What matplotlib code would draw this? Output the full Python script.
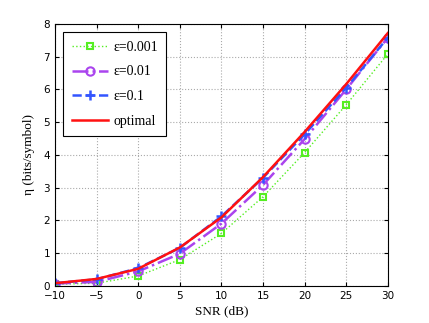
import matplotlib
matplotlib.use("Agg")
import matplotlib.pyplot as plt

snr = [-10, -5, 0, 5, 10, 15, 20, 25, 30]
eta_001 = [0.05, 0.08, 0.30, 0.80, 1.60, 2.72, 4.07, 5.53, 7.08]
eta_01 = [0.07, 0.12, 0.44, 0.98, 1.90, 3.08, 4.48, 6.00, 7.58]
eta_1 = [0.08, 0.20, 0.54, 1.16, 2.12, 3.30, 4.63, 6.05, 7.58]
eta_opt = [0.08, 0.21, 0.52, 1.17, 2.09, 3.32, 4.70, 6.16, 7.72]
xticks = [-10, -5, 0, 5, 10, 15, 20, 25, 30]
yticks = [0, 1, 2, 3, 4, 5, 6, 7, 8]

fig = plt.figure(figsize=(4.29, 3.23), dpi=100)
ax = fig.add_axes([0.128, 0.115, 0.776, 0.811])

serif = ["Liberation Serif", "DejaVu Serif"]

ax.plot(snr, eta_001, color="#55ee22", linestyle=":", linewidth=1.0,
        marker="s", markersize=5, markerfacecolor="none", markeredgewidth=1.5,
        label="ε=0.001")
ax.plot(snr, eta_01, color="#aa44ee", linestyle="-.", linewidth=1.8,
        marker="o", markersize=6, markerfacecolor="none", markeredgewidth=1.5,
        label="ε=0.01")
ax.plot(snr, eta_1, color="#3355ff", linestyle="--", linewidth=1.8,
        marker="+", markersize=7, markeredgewidth=1.8,
        label="ε=0.1")
ax.plot(snr, eta_opt, color="#ff1111", linestyle="-", linewidth=1.8,
        label="optimal")

ax.set_xlim(-10, 30)
ax.set_ylim(0, 8)
ax.set_xticks(xticks)
ax.set_yticks(yticks)
ax.tick_params(direction="in", top=True, right=True, labelsize=7.5, length=3)
ax.grid(True, linestyle=":", color="#aaaaaa", linewidth=0.8)
for s in ax.spines.values():
    s.set_linewidth(0.8)

ax.set_xlabel("SNR (dB)", family=serif, fontsize=9.5, labelpad=3)
ax.set_ylabel("η (bits/symbol)", family=serif, fontsize=9.5, labelpad=6)

leg = ax.legend(loc="upper left", prop={"family": serif, "size": 10},
                fancybox=False, edgecolor="black", framealpha=1,
                borderaxespad=0.6, handlelength=2.6, handletextpad=0.4,
                labelspacing=0.85, borderpad=0.6)
leg.get_frame().set_linewidth(0.8)

fig.savefig("out.png", dpi=100)
